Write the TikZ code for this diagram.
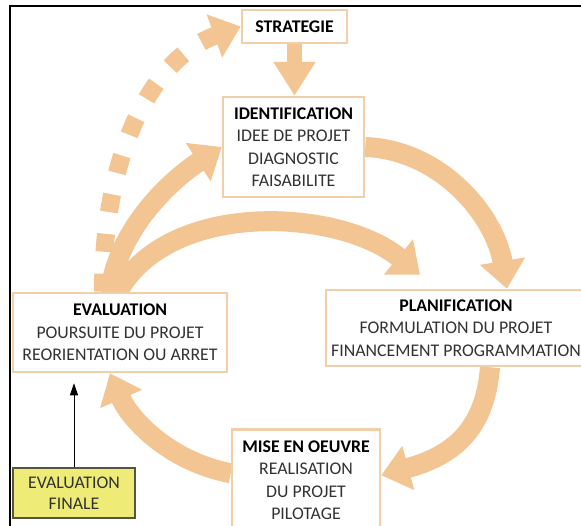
\documentclass[tikz,border=0pt]{standalone}
\usepackage{fontspec}
\setmainfont{Carlito}
\usetikzlibrary{arrows.meta,backgrounds}

\definecolor{cycletan}{RGB}{243,197,147}
\definecolor{boxtan}{RGB}{240,207,170}
\definecolor{finalyellow}{RGB}{238,236,118}
\definecolor{finalborder}{RGB}{85,85,70}
\definecolor{textgray}{RGB}{50,50,50}

\newcommand{\stagetitle}[1]{\textcolor{black}{\textbf{#1}}}

\begin{document}
\begin{tikzpicture}[x=1pt, y=-1pt,
	stage/.style={draw=boxtan, line width=2.5pt, fill=white, align=center, text=textgray,
		inner sep=1pt, font=\fontsize{17.8}{22.5}\selectfont},
	cycle/.style={draw=cycletan, line width=20pt, -{Triangle[length=28pt,width=44pt]}}]
	\useasboundingbox (0,0) rectangle (581,525);
	\clip (0,0) rectangle (581,525);

	% Frame
	\draw[line width=1.5pt] (10,6) rectangle (620,560);

	% Stages
	\node[stage, minimum width=105pt, minimum height=33pt] (strat) at (294.5,26.5) {\stagetitle{STRATEGIE}};
	\node[stage, minimum width=141pt, minimum height=100pt] (ident) at (293.5,147)
		{\stagetitle{IDENTIFICATION}\\IDEE DE PROJET\\DIAGNOSTIC\\FAISABILITE};
	\node[stage, minimum width=260pt, minimum height=76pt] (plan) at (456,328)
		{\stagetitle{PLANIFICATION}\\FORMULATION DU PROJET\\FINANCEMENT PROGRAMMATION};
	\node[stage, anchor=north, minimum width=148pt, minimum height=102pt] (mise) at (306,428)
		{\stagetitle{MISE EN OEUVRE}\\REALISATION\\DU PROJET\\PILOTAGE};
	\node[stage, minimum width=214pt, minimum height=79pt] (eval) at (120,332.5)
		{\stagetitle{EVALUATION}\\POURSUITE DU PROJET\\REORIENTATION OU ARRET};
	\node[stage, draw=finalborder, fill=finalyellow, line width=1.5pt, minimum width=122pt, minimum height=50pt,
		font=\fontsize{17.8}{21}\selectfont] (final) at (74,493) {EVALUATION\\FINALE};

	% Final evaluation feeds back
	\draw[line width=1pt, -{Triangle[length=12pt,width=8pt]}, shorten >=10pt]
		(final.north) -- (final.north |- eval.south);

	\begin{scope}[on background layer]
		% Strategy loop (dotted)
		\draw[cycle, line width=18pt, dash pattern=on 18pt off 22pt]
			([xshift=-17pt]eval.north) .. controls +(0,-133) and +(-92,33) .. (strat.west);
		% Project cycle
		\draw[cycle, line width=15pt, -{Triangle[length=34pt,width=40pt]}] (strat.south) -- (strat.south |- ident.north);
		\draw[cycle] (ident.east) .. controls +(76,3) and +(-12,-73) .. ([xshift=51pt]plan.north);
		\draw[cycle] ([xshift=34pt]plan.south) .. controls +(-5,64) and +(70,-19) .. ([yshift=5pt]mise.east);
		\draw[cycle] ([yshift=7pt]mise.west) .. controls +(-62,-12) and +(20,46) .. ([xshift=-10pt]eval.south);
		\draw[cycle] ([xshift=-10pt]eval.north) .. controls +(8,-63) and +(-51,33) .. (ident.west);
		\draw[cycle] ([xshift=-2pt]eval.north) .. controls +(52,-93) and +(-80,-66) .. ([xshift=-36pt,yshift=14pt]plan.north);
	\end{scope}
\end{tikzpicture}
\end{document}
